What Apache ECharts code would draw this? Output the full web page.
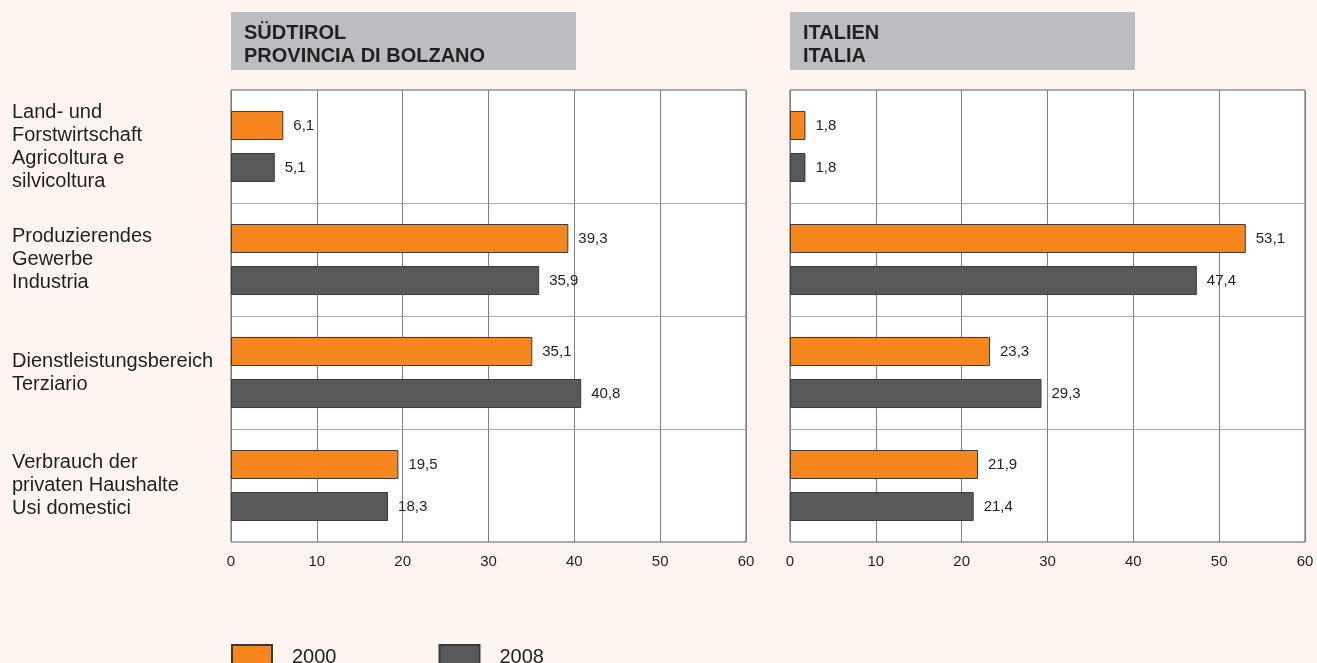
<!DOCTYPE html>
<html>
<head>
<meta charset="utf-8">
<script src="https://cdn.jsdelivr.net/npm/echarts@6/dist/echarts.min.js"></script>
<style>
  html, body { margin: 0; padding: 0; background: #fef5f1; }
  #chart { width: 1317px; height: 663px; }
</style>
</head>
<body>
<div id="chart"></div>
<script>
var categories = [
    "Land- und\nForstwirtschaft\nAgricoltura e\nsilvicoltura",
    "Produzierendes\nGewerbe\nIndustria",
    "Dienstleistungsbereich\nTerziario",
    "Verbrauch der\nprivaten Haushalte\nUsi domestici"
];
var years = ["2000", "2008"];
var suedtirol2000 = [6.1, 39.3, 35.1, 19.5];
var suedtirol2008 = [5.1, 35.9, 40.8, 18.3];
var italien2000 = [1.8, 53.1, 23.3, 21.9];
var italien2008 = [1.8, 47.4, 29.3, 21.4];
var xTicks = [0, 10, 20, 30, 40, 50, 60];

var colOrange = "#f7861f";
var colDark = "#58595b";
var textCol = "#231f20";
var fontFam = "Liberation Sans, Arial, sans-serif";

function fmt(v) {
    return v.toFixed(1).replace(".", ",");
}

function makeBar(name, data, color, idx) {
    return {
        name: name,
        type: "bar",
        xAxisIndex: idx,
        yAxisIndex: idx,
        data: data,
        barWidth: 29,
        barGap: "45%",
        itemStyle: { color: color, borderColor: "#3a3a3a", borderWidth: 1 },
        label: {
            show: true,
            position: "right",
            distance: 10,
            color: textCol,
            fontSize: 15,
            fontFamily: fontFam,
            formatter: function (p) { return fmt(p.value); }
        },
        emphasis: { disabled: true }
    };
}

function makeXAxis(idx) {
    return {
        type: "value",
        gridIndex: idx,
        min: xTicks[0],
        max: xTicks[xTicks.length - 1],
        interval: 10,
        axisLine: { show: false },
        axisTick: { show: false },
        axisLabel: {
            margin: 12,
            color: textCol,
            fontSize: 15,
            fontFamily: fontFam
        },
        splitLine: { show: true, lineStyle: { color: "#808080", width: 1 } }
    };
}

function makeYAxis(idx, showLabels) {
    return {
        type: "category",
        gridIndex: idx,
        inverse: true,
        data: categories,
        axisLine: { show: false },
        axisTick: { show: false },
        axisLabel: {
            show: showLabels,
            align: "left",
            margin: 219,
            color: textCol,
            fontSize: 20,
            lineHeight: 23,
            padding: [5, 0, 0, 0],
            fontFamily: fontFam
        },
        splitLine: { show: true, lineStyle: { color: "#aaaaaa", width: 1 } }
    };
}

function titleBox(x, lines) {
    return {
        type: "group",
        left: x,
        top: 12,
        children: [
            { type: "rect", shape: { x: 0, y: 0, width: 345, height: 58 },
              style: { fill: "#bcbdc0" } },
            { type: "text", x: 13, y: 10,
              style: { text: lines, fill: textCol, fontSize: 20, fontWeight: "bold",
                       lineHeight: 23, fontFamily: fontFam } }
        ]
    };
}

var option = {
    backgroundColor: "#fef5f1",
    animation: false,
    graphic: [
        titleBox(231, "SÜDTIROL\nPROVINCIA DI BOLZANO"),
        titleBox(790, "ITALIEN\nITALIA")
    ],
    legend: {
        data: years,
        left: 231,
        top: 644,
        padding: 0,
        icon: "rect",
        itemWidth: 40,
        itemHeight: 24,
        itemGap: 102,
        selectedMode: false,
        textStyle: {
            color: textCol,
            fontSize: 20,
            padding: [0, 0, 0, 15],
            fontFamily: fontFam
        }
    },
    grid: [
        { left: 231, top: 90, width: 515, height: 452, show: true,
          backgroundColor: "#ffffff", borderColor: "#5a5a5a", borderWidth: 1 },
        { left: 790, top: 90, width: 515, height: 452, show: true,
          backgroundColor: "#ffffff", borderColor: "#5a5a5a", borderWidth: 1 }
    ],
    xAxis: [makeXAxis(0), makeXAxis(1)],
    yAxis: [makeYAxis(0, true), makeYAxis(1, false)],
    series: [
        makeBar(years[0], suedtirol2000, colOrange, 0),
        makeBar(years[1], suedtirol2008, colDark, 0),
        makeBar(years[0], italien2000, colOrange, 1),
        makeBar(years[1], italien2008, colDark, 1)
    ]
};

var chart = echarts.init(document.getElementById("chart"));
chart.setOption(option);
</script>
</body>
</html>
